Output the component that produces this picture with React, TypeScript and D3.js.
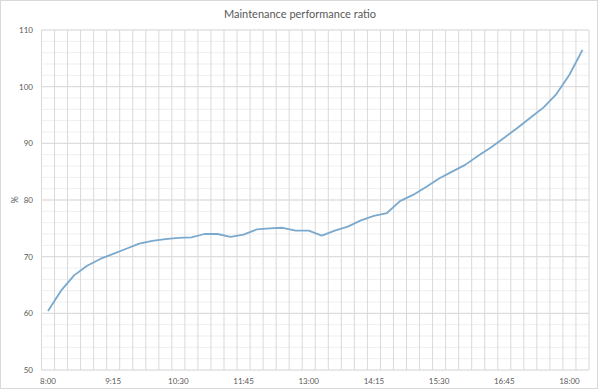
import React from "react";
import * as d3 from "d3";

const categories: string[] = [];
// 15-minute categories from 8:00 to 18:15
const startMinutes = 8 * 60;
for (let k = 0; k < 42; k++) {
  const m = startMinutes + k * 15;
  categories.push(`${Math.floor(m / 60)}:${String(m % 60).padStart(2, "0")}`);
}

const values: number[] = [
  60.4, 64.0, 66.7, 68.4, 69.6, 70.5, 71.4, 72.3, 72.8, 73.1,
  73.3, 73.4, 74.0, 74.0, 73.5, 73.9, 74.8, 75.0, 75.1, 74.6,
  74.6, 73.7, 74.6, 75.3, 76.4, 77.2, 77.7, 79.8, 80.9, 82.3,
  83.8, 85.0, 86.2, 87.8, 89.3, 91.0, 92.7, 94.5, 96.3, 98.7,
  102.1, 106.5,
];

const yTicks: number[] = [50, 60, 70, 80, 90, 100, 110];
const yMinorTicks: number[] = d3.range(50, 111, 2);
const title = "Maintenance performance ratio";
const yTitle = "%";

const W = 600;
const H = 390;
const plot = { left: 41.5, right: 589, top: 30, bottom: 370 };
const FONT = "Lato, 'Open Sans', sans-serif";

export default function App() {
  const x = d3
    .scaleBand<string>()
    .domain(categories)
    .range([plot.left, plot.right])
    .paddingInner(0)
    .paddingOuter(0);
  const y = d3.scaleLinear().domain([50, 110]).range([plot.bottom, plot.top]);
  const line = d3
    .line<number>()
    .x((_, i) => (x(categories[i]) as number) + x.bandwidth() / 2)
    .y((d) => y(d));

  const bounds = categories.map((c) => x(c) as number).concat([plot.right]);

  return (
    <div style={{ position: "absolute", left: 0, top: 0 }}>
      <svg width={W} height={H} style={{ display: "block", background: "#fff" }}>
        <rect x={0.5} y={0.5} width={W - 3} height={H - 2} fill="#fff" stroke="#d9d9d9" />
        {yMinorTicks.map((t) => (
          <line key={"m" + t} x1={plot.left} x2={plot.right} y1={y(t)} y2={y(t)} stroke="#efefef" strokeWidth={1} />
        ))}
        {bounds.map((b, i) => (
          <line key={"v" + i} x1={b} x2={b} y1={plot.top} y2={plot.bottom} stroke="#d9d9d9" strokeWidth={1} />
        ))}
        {yTicks.map((t) => (
          <line key={"g" + t} x1={plot.left} x2={plot.right} y1={y(t)} y2={y(t)} stroke="#d9d9d9" strokeWidth={1} />
        ))}
        {yTicks.map((t) => (
          <text key={"yl" + t} x={33} y={y(t) + 3} textAnchor="end" fontSize={8} fill="#595959" fontFamily={FONT}>
            {t}
          </text>
        ))}
        {categories.map((c, i) =>
          i % 5 === 0 ? (
            <text
              key={"xl" + c}
              x={(x(c) as number) + x.bandwidth() / 2}
              y={384}
              textAnchor="middle"
              fontSize={8}
              fill="#595959"
              fontFamily={FONT}
            >
              {c}
            </text>
          ) : null
        )}
        <text
          transform={`translate(18, ${(plot.top + plot.bottom) / 2}) rotate(-90)`}
          textAnchor="middle"
          fontSize={9}
          fill="#595959"
          fontFamily={FONT}
        >
          {yTitle}
        </text>
        <text x={W / 2} y={18} textAnchor="middle" fontSize={11} fill="#595959" fontFamily={FONT}>
          {title}
        </text>
        <path d={line(values) || ""} fill="none" stroke="#7aa9cd" strokeWidth={1.8} strokeLinejoin="round" />
      </svg>
    </div>
  );
}
